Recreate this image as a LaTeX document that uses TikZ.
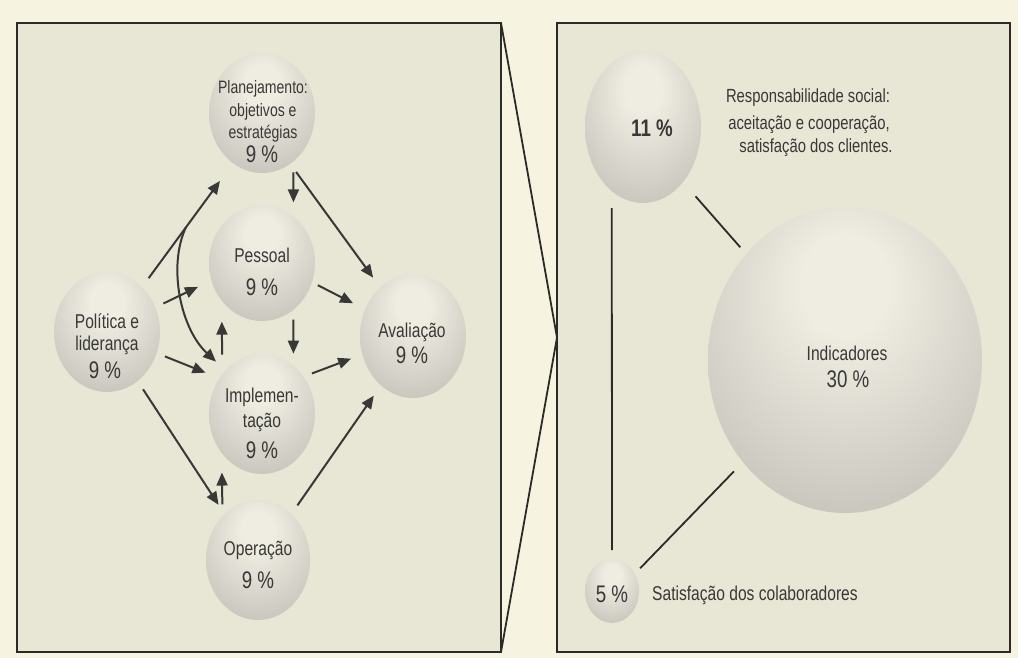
\documentclass[tikz,border=0pt]{standalone}
\usepackage{fontspec}
\setmainfont{Liberation Sans}[FakeStretch=0.78]
\usetikzlibrary{arrows.meta,shapes.geometric}

\definecolor{paper}{HTML}{F6F4E0}
\definecolor{panel}{HTML}{E8E6D5}
\definecolor{ink}{HTML}{383836}
\definecolor{frame}{HTML}{2A2A28}
\definecolor{sphhi}{HTML}{EFEDE2}
\definecolor{sphmid}{HTML}{D1CEC5}
\definecolor{sphedge}{HTML}{AEAAA2}

% soft lit sphere: bright spot above the middle, greyer rim
\pgfdeclareradialshading{sphere}{\pgfpoint{0bp}{14bp}}{%
  color(0bp)=(sphhi); color(8bp)=(sphhi); color(28bp)=(sphmid);
  color(50bp)=(sphedge); color(70bp)=(sphedge)}

\tikzset{
  sph/.style={ellipse, inner sep=0pt, outer sep=0pt, shading=sphere, draw=none},
  lbl/.style={text=ink, font=\fontsize{20pt}{22pt}\selectfont, anchor=base, inner sep=0pt},
  small/.style={lbl, font=\fontsize{18pt}{20pt}\selectfont},
  note/.style={lbl, font=\fontsize{19pt}{21pt}\selectfont},
  pct/.style={lbl, font=\fontsize{24pt}{26pt}\selectfont},
  arr/.style={draw=ink, line width=2pt, -{Triangle[length=13pt,width=11pt]}},
  link/.style={draw=frame, line width=1.8pt},
  panelbox/.style={rectangle, draw=frame, line width=2.6pt, fill=panel,
    inner sep=0pt, outer sep=0pt}
}

\begin{document}
\begin{tikzpicture}[x=1pt, y=-1pt]
\useasboundingbox (0,0) rectangle (1018,658);
\fill[paper] (0,0) rectangle (1018,658);

% the two panels
\node[panelbox, minimum width=484pt, minimum height=629pt] (lbox) at (259,337.5) {};
\node[panelbox, minimum width=453pt, minimum height=629pt] (rbox) at (783.5,337.5) {};
\draw[link] (lbox.north east) -- (rbox.west) -- (lbox.south east);

% spheres of the left panel
\node[sph, minimum width=106pt, minimum height=120pt] (plan) at (262,113) {};
\node[sph, minimum width=106pt, minimum height=116pt] (pes)  at (262,263) {};
\node[sph, minimum width=106pt, minimum height=120pt] (pol)  at (107,332) {};
\node[sph, minimum width=106pt, minimum height=120pt] (imp)  at (262,414) {};
\node[sph, minimum width=104pt, minimum height=120pt] (op)   at (258,560) {};
\node[sph, minimum width=106pt, minimum height=124pt] (ava)  at (413,336) {};

% spheres of the right panel
\node[sph, minimum width=116pt, minimum height=152pt] (c11) at (643,127) {};
\node[sph, minimum width=274pt, minimum height=306pt] (ind) at (845,360) {};
\node[sph, minimum width=54pt,  minimum height=64pt]  (c5)  at (612,591) {};

% arrows between the areas
\draw[arr, shorten <=11pt, shorten >=22pt] (pol.52) -- coordinate[pos=0.48] (fork) (plan.240);
\draw[arr, shorten <=9pt, shorten >=15pt] (pol.27) -- (pes.199);
\draw[arr, shorten >=13pt] (fork) .. controls +(-18,39) and +(-45,-42) .. (imp.130);
\draw[arr, shorten <=11pt, shorten >=14pt] (plan.-57.5) -- (pes.56.6);
\draw[arr, shorten <=10pt, shorten >=12pt] (plan.-61.6) -- (ava.124);
\draw[arr, shorten <=6.5pt, shorten >=13.5pt] (pes.-21) -- (ava.151);
\draw[arr, shorten <=10pt, shorten >=12pt] (pes.-56.6) -- (imp.57.5);
\draw[arr, shorten <=19.6pt, shorten >=21pt] (imp.135.4) -- (pes.223.5);
\draw[arr, shorten <=9pt, shorten >=15pt] (pol.-23.5) -- (imp.140.5);
\draw[arr, shorten <=9pt, shorten >=12pt] (imp.42) -- (ava.200);
\draw[arr, shorten <=10pt, shorten >=11pt] (pol.-58.4) -- (op.126.6);
\draw[arr, shorten <=11.7pt, shorten >=19.6pt] (op.129.7) -- (imp.224.6);
\draw[arr, shorten <=10.5pt, shorten >=12.5pt] (op.54.6) -- (ava.237.3);

% links of the right panel
\draw[link, shorten <=19pt, shorten >=9pt] (c11.-54.8) -- (ind.133.2);
\draw[link, shorten <=17pt, shorten >=9pt] (c11.244.2) -- (c5.90);
\draw[link, shorten <=7.7pt, shorten >=13pt] (c5.37.9) -- (ind.225.8);

% labels, left panel
\node[small] (planA) at (263,94)  {Planejamento:};
\node[small] (planB) at (263,117) {objetivos e};
\node[small] (planC) at (263,139) {estratégias};
\node[pct]   (planP) at (262,163) {9 \%};

\node[lbl] (pesA) at (262,262) {Pessoal};
\node[pct] (pesP) at (262,295) {9 \%};

\node[lbl] (polA) at (107,328) {Política e};
\node[lbl] (polB) at (107,350) {liderança};
\node[pct] (polP) at (105,378) {9 \%};

\node[lbl] (impA) at (262,402) {Implemen-};
\node[lbl] (impB) at (262,427) {tação};
\node[pct] (impP) at (262,458) {9 \%};

\node[lbl] (opA) at (258,555) {Operação};
\node[pct] (opP) at (258,588) {9 \%};

\node[lbl] (avaA) at (412,337) {Avaliação};
\node[pct] (avaP) at (412,363) {9 \%};

% labels, right panel
\node[pct, font=\fontsize{24pt}{26pt}\selectfont\bfseries] (c11P) at (652,137) {11 \%};
\node[note] (rsA) at (808,103) {Responsabilidade social:};
\node[note] (rsB) at (809,130) {aceitação e cooperação,};
\node[note] (rsC) at (816,153) {satisfação dos clientes.};

\node[lbl] (indA) at (847,360) {Indicadores};
\node[pct] (indP) at (848,387) {30 \%};

\node[pct] (c5P) at (612,602) {5 \%};
\node[lbl, anchor=base west] (colab) at (652,600) {Satisfação dos colaboradores};
\end{tikzpicture}
\end{document}
